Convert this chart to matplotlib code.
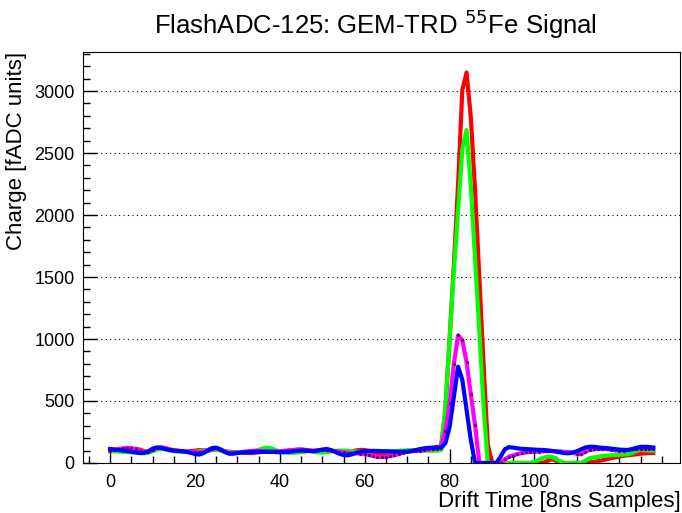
import numpy as np
import matplotlib
matplotlib.use("Agg")
import matplotlib.pyplot as plt
from matplotlib.ticker import MultipleLocator

# samples 0..128, values
samples = np.arange(129)

red = [100, 100, 98, 96, 100, 110, 115, 108, 95, 88,
       100, 118, 124, 118, 108, 100, 96, 94, 92, 95,
       100, 104, 102, 100, 104, 108, 104, 96, 90, 88,
       86, 84, 82, 80, 82, 86, 90, 94, 92, 88,
       86, 88, 94, 102, 108, 110, 106, 100, 96, 94,
       96, 100, 98, 92, 86, 82, 86, 94, 102, 106,
       104, 98, 88, 78, 72, 70, 72, 78, 86, 92,
       96, 98, 100, 102, 104, 106, 108, 112, 140, 420,
       1000, 1600, 2250, 3010, 3150, 2790, 2200, 1500, 800, 150,
       0, 0, 0, 0, 0, 0, 0, 0, 0, 0,
       0, 0, 0, 15, 32, 20, 0, 0, 0, 0,
       0, 0, 0, 5, 10, 15, 22, 30, 38, 45,
       52, 58, 62, 66, 70, 75, 78, 80, 80]

green = [95, 95, 92, 90, 88, 86, 84, 80, 78, 82,
         95, 108, 114, 110, 102, 96, 92, 90, 88, 86,
         90, 95, 100, 105, 108, 106, 100, 92, 86, 84,
         86, 88, 90, 92, 96, 105, 118, 124, 118, 104,
         92, 86, 82, 82, 84, 88, 92, 96, 90, 85,
         84, 88, 94, 98, 100, 100, 98, 94, 92, 92,
         94, 96, 98, 98, 96, 94, 94, 96, 98, 100,
         102, 104, 104, 102, 100, 100, 98, 100, 105, 450,
         1000, 1548, 2040, 2530, 2685, 2228, 1648, 1067, 462, 0,
         0, 0, 0, 0, 0, 0, 0, 0, 0, 0,
         10, 25, 40, 51, 50, 35, 15, 0, 0, 0,
         0, 0, 20, 38, 45, 50, 55, 59, 62, 64,
         66, 68, 70, 80, 95, 105, 102, 100, 99]

magenta = [100, 105, 112, 118, 122, 120, 110, 98, 88, 90,
           105, 120, 126, 120, 110, 102, 98, 95, 92, 90,
           88, 86, 92, 105, 115, 118, 108, 92, 82, 80,
           84, 88, 92, 96, 98, 98, 96, 94, 92, 92,
           94, 98, 102, 105, 106, 104, 100, 98, 100, 104,
           106, 104, 100, 95, 90, 85, 82, 80, 78, 76,
           72, 65, 56, 50, 48, 50, 55, 62, 72, 82,
           90, 95, 98, 100, 104, 110, 112, 116, 140, 260,
           480, 800, 1030, 990, 812, 555, 305, 0, 0, 0,
           0, 0, 0, 30, 51, 60, 72, 80, 85, 88,
           90, 92, 94, 95, 96, 95, 93, 90, 88, 85,
           72, 70, 90, 105, 110, 113, 113, 112, 108, 102,
           99, 100, 104, 110, 116, 116, 116, 115, 114]

blue = [113, 110, 105, 100, 95, 90, 85, 80, 82, 95,
        115, 126, 122, 112, 105, 100, 98, 95, 90, 82,
        72, 68, 80, 100, 120, 124, 110, 88, 75, 75,
        80, 84, 86, 88, 90, 90, 90, 90, 90, 90,
        88, 88, 90, 94, 98, 100, 100, 98, 95, 100,
        108, 113, 105, 90, 75, 64, 62, 70, 82, 92,
        96, 97, 97, 96, 95, 94, 93, 92, 91, 91,
        92, 96, 104, 112, 118, 122, 124, 128, 120, 160,
        290, 532, 777, 670, 427, 185, 0, 0, 0, 0,
        0, 0, 50, 110, 128, 124, 118, 114, 112, 110,
        108, 106, 105, 102, 98, 92, 86, 80, 78, 84,
        95, 110, 125, 131, 130, 126, 122, 120, 116, 112,
        108, 106, 105, 112, 122, 130, 131, 128, 125]

plt.rcParams['font.family'] = ['Liberation Sans', 'DejaVu Sans']

fig = plt.figure(figsize=(6.82, 5.13), dpi=100)
ax = fig.add_axes([0.1217, 0.0975, 0.876, 0.8011])

ax.plot(samples, red, color='#ff0000', lw=3)
ax.plot(samples, green, color='#00ff00', lw=3)
ax.plot(samples, magenta, color='#ff00ff', lw=3,
        marker='o', ms=1.2, mfc='#550055', mec='#550055')
ax.plot(samples, blue, color='#0000ff', lw=3)

ax.set_xlim(-6.4, 134.4)
ax.set_ylim(0, 3315)

#ROOT style ticks
ax.xaxis.set_major_locator(MultipleLocator(20))
ax.xaxis.set_minor_locator(MultipleLocator(5))
ax.yaxis.set_major_locator(MultipleLocator(500))
ax.yaxis.set_minor_locator(MultipleLocator(100))
ax.tick_params(which='both', direction='in', top=False, right=False,
               labelsize=13, width=1)
ax.tick_params(which='major', length=10)
ax.tick_params(which='minor', length=5)
ax.tick_params(axis='x', pad=8)
ax.tick_params(axis='y', pad=6)

ax.grid(axis='y', which='major', color='black', linestyle=(0, (1, 3)), lw=0.8)

ax.set_xlabel('Drift Time [8ns Samples]', fontsize=16, loc='right', labelpad=0)
ax.set_ylabel('Charge [fADC units]', fontsize=16, loc='top', labelpad=5)

fig.text(0.551, 0.953, 'FlashADC-125: GEM-TRD $^{55}$Fe Signal',
         ha='center', va='center', fontsize=18.5)

fig.savefig('out.png', dpi=100)
